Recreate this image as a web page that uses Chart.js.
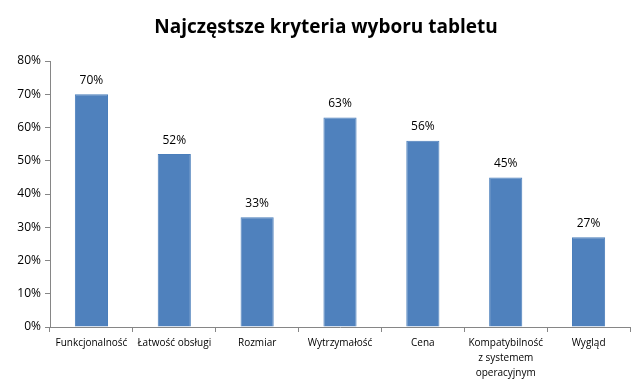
<!DOCTYPE html>
<html>
<head>
<meta charset="utf-8">
<script src="https://cdn.jsdelivr.net/npm/chart.js@4"></script>
<style>
  html, body { margin: 0; padding: 0; background: #fff; }
  #wrap { width: 640px; height: 385px; }
</style>
</head>
<body>
<div id="wrap"><canvas id="chart"></canvas></div>
<script>
const chartTitle = "Najczęstsze kryteria wyboru tabletu";
const categories = [
    "Funkcjonalność",
    "Łatwość obsługi",
    "Rozmiar",
    "Wytrzymałość",
    "Cena",
    ["Kompatybilność", "z systemem", "operacyjnym"],
    "Wygląd"
];
const values = [70, 52, 33, 63, 56, 45, 27];
const yTicks = [0, 10, 20, 30, 40, 50, 60, 70, 80];

// labels above bars + title centred like the original
const extras = {
    id: "extras",
    afterDatasetsDraw(chart) {
        const ctx = chart.ctx;
        const meta = chart.getDatasetMeta(0);
        ctx.save();
        ctx.font = "12px 'Open Sans', sans-serif";
        ctx.fillStyle = "#000";
        ctx.textAlign = "center";
        ctx.textBaseline = "bottom";
        meta.data.forEach(function (bar, i) {
            ctx.fillText(values[i] + "%", bar.x, bar.y - 8);
        });
        ctx.font = "bold 19px 'Open Sans', sans-serif";
        ctx.textBaseline = "middle";
        ctx.fillText(chartTitle, 326, 28);
        ctx.restore();
    }
};

const ctx = document.getElementById("chart").getContext("2d");
new Chart(ctx, {
    type: "bar",
    data: {
        labels: categories,
        datasets: [{
            data: values,
            backgroundColor: "#4F81BD",
            borderColor: "#4A7EBB",
            borderWidth: 1,
            categoryPercentage: 1,
            barPercentage: 0.4
        }]
    },
    options: {
        responsive: true,
        maintainAspectRatio: false,
        animation: false,
        layout: { padding: { left: 0, right: 10, top: 61, bottom: 0 } },
        plugins: {
            legend: { display: false },
            tooltip: { enabled: false },
            title: { display: false }
        },
        scales: {
            x: {
                grid: {
                    offset: true,
                    drawOnChartArea: false,
                    drawTicks: true,
                    tickLength: 5,
                    color: "#868686"
                },
                border: { color: "#868686" },
                ticks: {
                    color: "#000",
                    maxRotation: 0,
                    autoSkip: false,
                    padding: 4,
                    font: { family: "'Open Sans', sans-serif", size: 10, lineHeight: 1.5 }
                }
            },
            y: {
                min: 0,
                max: 80,
                afterFit(scale) { scale.width = 50; },
                afterBuildTicks(scale) {
                    scale.ticks = yTicks.map(v => ({ value: v }));
                },
                grid: {
                    drawOnChartArea: false,
                    drawTicks: true,
                    tickLength: 5,
                    color: "#868686"
                },
                border: { color: "#868686" },
                ticks: {
                    color: "#000",
                    padding: 4,
                    font: { family: "'Open Sans', sans-serif", size: 12 },
                    callback: v => v + "%"
                }
            }
        }
    },
    plugins: [extras]
});
</script>
</body>
</html>
